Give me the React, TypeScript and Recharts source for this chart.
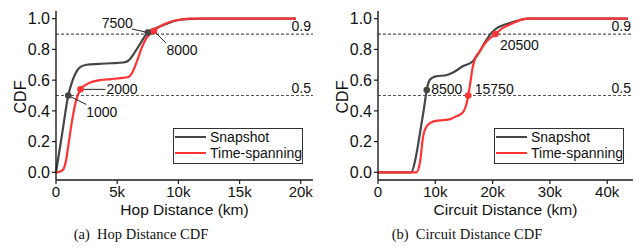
import React from 'react';
import { LineChart, Line, XAxis, YAxis, ReferenceLine, ReferenceDot, Legend } from 'recharts';

// ---------- data ----------
const hopSnapshotX = [0, 500, 1000, 1300, 1600, 2000, 2500, 3500, 4500, 5500, 5900, 6300, 6900, 7500, 8200, 9000, 9900, 10700, 12000, 19600];
const hopSnapshotY = [0, 0.25, 0.5, 0.585, 0.645, 0.686, 0.7, 0.706, 0.71, 0.715, 0.726, 0.765, 0.84, 0.91, 0.94, 0.966, 0.99, 0.997, 1.0, 1.0];

const hopTimeX = [0, 300, 600, 800, 1000, 1300, 1650, 2000, 2400, 2800, 3600, 4500, 5300, 5900, 6300, 6600, 7000, 7400, 8000, 8500, 9300, 10100, 11000, 19600];
const hopTimeY = [0, 0.004, 0.02, 0.07, 0.17, 0.33, 0.47, 0.54, 0.568, 0.585, 0.6, 0.607, 0.613, 0.62, 0.66, 0.72, 0.81, 0.875, 0.92, 0.95, 0.978, 0.993, 1.0, 1.0];

const circSnapshotX = [0, 5800, 6500, 7300, 8000, 8500, 9000, 9600, 10200, 11900, 13100, 14800, 16600, 17300, 18900, 20000, 20800, 22000, 23500, 24700, 26000, 43600];
const circSnapshotY = [0, 0, 0.08, 0.25, 0.41, 0.535, 0.6, 0.618, 0.625, 0.632, 0.65, 0.69, 0.725, 0.76, 0.86, 0.915, 0.94, 0.96, 0.978, 0.99, 1.0, 1.0];

const circTimeX = [0, 6700, 7300, 7900, 8500, 9600, 11300, 12500, 13500, 14500, 15000, 15400, 15750, 16100, 16500, 17000, 17700, 18900, 20500, 21800, 23500, 25300, 26500, 43600];
const circTimeY = [0, 0, 0.06, 0.24, 0.3, 0.33, 0.34, 0.345, 0.362, 0.38, 0.4, 0.44, 0.5, 0.58, 0.68, 0.745, 0.785, 0.85, 0.9, 0.94, 0.97, 0.995, 1.0, 1.0];

const yTicks = [0, 0.2, 0.4, 0.6, 0.8, 1.0];
const hopXTicks = [0, 5000, 10000, 15000, 20000];
const circXTicks = [0, 10000, 20000, 30000, 40000];
const refLevels = [0.9, 0.5];

const seriesNames = ['Snapshot', 'Time-spanning'];

const hopMarkSeries = ['snap', 'time', 'snap', 'time'];
const hopMarkX = [1000, 2000, 7500, 8000];
const hopMarkY = [0.5, 0.54, 0.91, 0.92];
const hopMarkText = ['1000', '2000', '7500', '8000'];

const circMarkSeries = ['snap', 'time', 'time'];
const circMarkX = [8500, 15750, 20500];
const circMarkY = [0.535, 0.5, 0.9];
const circMarkText = ['8500', '15750', '20500'];

const captions = ['(a)  Hop Distance CDF', '(b)  Circuit Distance CDF'];
const xLabels = ['Hop Distance (km)', 'Circuit Distance (km)'];

// ---------- styles ----------
const FONT = '"Liberation Sans", Arial, Helvetica, sans-serif';
const SERIF = '"Liberation Serif", "Times New Roman", serif';
const COLORS = { snap: '#454545', time: '#ff3333' };
const AXIS = '#1a1a1a';

// label offsets relative to the marker (px): text anchor, and optional leader line end
const hopMarkStyle = [
  { tx: 18, ty: 21, anchor: 'start', lx: 18, ly: 9 },
  { tx: 26, ty: 5, anchor: 'start', lx: 25, ly: 0 },
  { tx: -15, ty: -4.5, anchor: 'end', lx: -16, ly: -3.5 },
  { tx: 12.5, ty: 24.5, anchor: 'start', lx: 12, ly: 12 },
];
const circMarkStyle = [
  { tx: 4.5, ty: 4.2, anchor: 'start', lx: null, ly: null },
  { tx: 6.5, ty: -1.2, anchor: 'start', lx: null, ly: null },
  { tx: 4.5, ty: 16.3, anchor: 'start', lx: null, ly: null },
];

const zip = (xs: number[], ys: number[]) => xs.map((x, i) => ({ x, y: ys[i] }));
const fmtK = (v: number) => (v === 0 ? '0' : `${v / 1000}k`);

function LegendBox() {
  return (
    <svg width={130} height={36} style={{ display: 'block' }}>
      <rect x={0.5} y={0.5} width={129} height={35} fill="#fff" stroke="#333" strokeWidth={1} />
      <line x1={2} x2={33} y1={9} y2={9} stroke={COLORS.snap} strokeWidth={2} />
      <text x={37} y={14.4} fontSize={14} fontFamily={FONT} fill="#111">{seriesNames[0]}</text>
      <line x1={2} x2={33} y1={25} y2={25} stroke={COLORS.time} strokeWidth={2} />
      <text x={37} y={30.4} fontSize={14} fontFamily={FONT} fill="#111">{seriesNames[1]}</text>
    </svg>
  );
}

type PanelProps = {
  width: number;
  yAxisWidth: number;
  rightMargin: number;
  xDomain: [number, number];
  xTicks: number[];
  xLabel: string;
  snap: { x: number; y: number }[];
  time: { x: number; y: number }[];
  markSeries: string[];
  markX: number[];
  markY: number[];
  markText: string[];
  markStyle: { tx: number; ty: number; anchor: string; lx: number | null; ly: number | null }[];
  legendLeft: number;
};

function Panel(p: PanelProps) {
  const axisLine = { stroke: AXIS, strokeWidth: 1.4 };
  return (
    <LineChart width={p.width} height={220} margin={{ top: 11, right: p.rightMargin, bottom: 0, left: 0 }}>
      <XAxis
        type="number"
        dataKey="x"
        domain={p.xDomain}
        ticks={p.xTicks}
        tickFormatter={fmtK}
        axisLine={axisLine}
        tickLine={{ stroke: AXIS, strokeWidth: 1.2 }}
        tickSize={4}
        tickMargin={2}
        tick={{ fontSize: 15, fill: '#111', fontFamily: FONT }}
        height={40}
        label={{
          content: (props: any) => {
            const vb = props.viewBox;
            return (
              <text x={vb.x + vb.width / 2} y={vb.y + 34.5} textAnchor="middle" fontSize={15.5} fontFamily={FONT} fill="#111">
                {p.xLabel}
              </text>
            );
          },
        }}
      />
      <XAxis xAxisId="top" orientation="top" type="number" domain={p.xDomain} height={0} tick={false} tickLine={false} axisLine={axisLine} />
      <YAxis
        type="number"
        domain={[-0.05, 1.05]}
        ticks={yTicks}
        tickFormatter={(v: number) => v.toFixed(1)}
        width={p.yAxisWidth}
        axisLine={axisLine}
        tickLine={{ stroke: AXIS, strokeWidth: 1.2 }}
        tickSize={4}
        tickMargin={2}
        tick={{ fontSize: 16, fill: '#111', fontFamily: FONT }}
        label={{
          content: (props: any) => {
            const vb = props.viewBox;
            const bx = vb.x + vb.width - 29.6;
            const cy = vb.y + vb.height / 2 + 1.5;
            return (
              <text x={bx} y={cy} transform={`rotate(-90 ${bx} ${cy})`} textAnchor="middle" fontSize={16} fontFamily={FONT} fill="#111">
                CDF
              </text>
            );
          },
        }}
      />
      <YAxis yAxisId="right" orientation="right" type="number" domain={[-0.05, 1.05]} width={0} tick={false} tickLine={false} axisLine={axisLine} />
      {refLevels.map((lv) => (
        <ReferenceLine
          key={lv}
          y={lv}
          stroke="#555"
          strokeWidth={1.2}
          strokeDasharray="3 2"
          label={{
            content: (props: any) => {
              const vb = props.viewBox;
              return (
                <text x={vb.x + vb.width - 2} y={vb.y - 3} textAnchor="end" fontSize={14} fontFamily={FONT} fill="#111">
                  {lv.toFixed(1)}
                </text>
              );
            },
          }}
        />
      ))}
      <Line data={p.snap} dataKey="y" type="monotone" stroke={COLORS.snap} strokeWidth={2.2} dot={false} isAnimationActive={false} name={seriesNames[0]} />
      <Line data={p.time} dataKey="y" type="monotone" stroke={COLORS.time} strokeWidth={2.2} dot={false} isAnimationActive={false} name={seriesNames[1]} />
      {p.markX.map((mx, i) => {
        const st = p.markStyle[i];
        const color = COLORS[p.markSeries[i] as 'snap' | 'time'];
        return (
          <ReferenceDot
            key={i}
            x={mx}
            y={p.markY[i]}
            r={3.3}
            shape={(sp: any) => (
              <g>
                {st.lx !== null && (
                  <line x1={sp.cx} y1={sp.cy} x2={sp.cx + (st.lx as number)} y2={sp.cy + (st.ly as number)} stroke="#222" strokeWidth={1} />
                )}
                <circle cx={sp.cx} cy={sp.cy} r={3.3} fill={color} />
                <text x={sp.cx + st.tx} y={sp.cy + st.ty} textAnchor={st.anchor as any} fontSize={14} fontFamily={FONT} fill="#111">
                  {p.markText[i]}
                </text>
              </g>
            )}
          />
        );
      })}
      <Legend
        layout="horizontal"
        verticalAlign="middle"
        align="center"
        content={() => <LegendBox />}
        wrapperStyle={{ left: p.legendLeft, top: 128, width: 130, height: 36 }}
      />
    </LineChart>
  );
}

export default function App() {
  return (
    <div style={{ position: 'absolute', left: 0, top: 0, width: 641, height: 252, background: '#fff', overflow: 'hidden' }}>
      <div style={{ position: 'absolute', left: 0, top: 0 }}>
        <Panel
          width={320}
          yAxisWidth={56}
          rightMargin={7}
          xDomain={[0, 21000]}
          xTicks={hopXTicks}
          xLabel={xLabels[0]}
          snap={zip(hopSnapshotX, hopSnapshotY)}
          time={zip(hopTimeX, hopTimeY)}
          markSeries={hopMarkSeries}
          markX={hopMarkX}
          markY={hopMarkY}
          markText={hopMarkText}
          markStyle={hopMarkStyle}
          legendLeft={173}
        />
      </div>
      <div style={{ position: 'absolute', left: 320, top: 0 }}>
        <Panel
          width={321}
          yAxisWidth={58}
          rightMargin={8}
          xDomain={[0, 44500]}
          xTicks={circXTicks}
          xLabel={xLabels[1]}
          snap={zip(circSnapshotX, circSnapshotY)}
          time={zip(circTimeX, circTimeY)}
          markSeries={circMarkSeries}
          markX={circMarkX}
          markY={circMarkY}
          markText={circMarkText}
          markStyle={circMarkStyle}
          legendLeft={174}
        />
      </div>
      <svg width={641} height={252} style={{ position: 'absolute', left: 0, top: 0, pointerEvents: 'none' }}>
        <text x={141} y={238.5} textAnchor="middle" fontSize={14.5} fontFamily={SERIF} fill="#111" style={{ whiteSpace: 'pre' }}>
          {captions[0]}
        </text>
        <text x={467} y={238.5} textAnchor="middle" fontSize={14.5} fontFamily={SERIF} fill="#111" style={{ whiteSpace: 'pre' }}>
          {captions[1]}
        </text>
      </svg>
    </div>
  );
}
